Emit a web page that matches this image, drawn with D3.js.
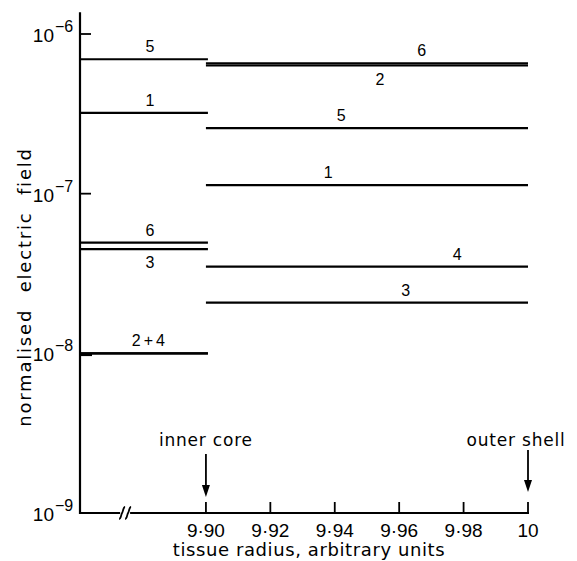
<!DOCTYPE html>
<html><head><meta charset="utf-8">
<script src="https://cdn.jsdelivr.net/npm/d3@7"></script>
<style>body{margin:0;background:#fff}svg{display:block}text{font-family:"DejaVu Sans",sans-serif;fill:#000}.num{font-family:"Liberation Sans",Arial,sans-serif}</style>
</head><body><svg id="c" width="577" height="561"></svg>
<script>
// Data
const series = ["1","2","3","4","5","6"];
const innerValues = [3.21e-7, 1.0e-8, 4.49e-8, 1.0e-8, 6.95e-7, 4.93e-8];
const outerValues = [1.13e-7, 6.35e-7, 2.08e-8, 3.49e-8, 2.57e-7, 6.55e-7];
const innerLabels = [{t:"5",v:6.95e-7,pos:"above"},{t:"1",v:3.21e-7,pos:"above"},{t:"6",v:4.93e-8,pos:"above"},{t:"3",v:4.49e-8,pos:"below"},{t:"2+4",v:1.0e-8,pos:"above"}];
const outerLabels = [{t:"6",v:6.55e-7,x:9.967,pos:"above"},{t:"2",v:6.35e-7,x:9.954,pos:"below"},{t:"5",v:2.57e-7,x:9.942,pos:"above"},{t:"1",v:1.13e-7,x:9.938,pos:"above"},{t:"4",v:3.49e-8,x:9.978,pos:"above"},{t:"3",v:2.08e-8,x:9.962,pos:"above"}];
const xTicks = [9.90, 9.92, 9.94, 9.96, 9.98, 10];
const xTickLabels = ["9·90","9·92","9·94","9·96","9·98","10"];
const yTicks = [1e-6, 1e-7, 1e-8, 1e-9];
const yTickExp = ["−6","−7","−8","−9"];
const xStart = 9.8609, coreEdge = 9.90, shellEdge = 10, breakAt = 9.8749;

const svg = d3.select("#c");
const x = d3.scaleLinear().domain([xStart, 10]).range([80, 528]);
const y = d3.scaleLog().domain([1e-9, 1e-6]).range([513, 34]);
const yTop = y(1.37e-6);

// axes
svg.append("line").attr("x1", x(xStart)).attr("x2", x(xStart)).attr("y1", yTop).attr("y2", y(1e-9)+1)
  .attr("stroke","#000").attr("stroke-width",2.2);
svg.append("line").attr("x1", x(xStart)-1).attr("x2", x(10)+1).attr("y1", y(1e-9)).attr("y2", y(1e-9))
  .attr("stroke","#000").attr("stroke-width",2);
// break symbol
const bx = x(breakAt), by = y(1e-9);
svg.append("rect").attr("x", bx-5).attr("y", by-3).attr("width", 10).attr("height", 6).attr("fill","#fff");
[-3,3].forEach(d=>{
  svg.append("path").attr("d", `M${bx+d-3},${by+6} C${bx+d-1},${by+6} ${bx+d-1},${by+1} ${bx+d},${by} S${bx+d+1},${by-6} ${bx+d+3},${by-6}`)
   .attr("fill","none").attr("stroke","#000").attr("stroke-width",1.8);
});
// x ticks
xTicks.forEach((t,i)=>{
  svg.append("line").attr("x1",x(t)).attr("x2",x(t)).attr("y1",y(1e-9)).attr("y2",y(1e-9)-11).attr("stroke","#000").attr("stroke-width",1.8);
  svg.append("text").attr("class","num").attr("x",x(t)).attr("y",537).attr("text-anchor","middle").attr("font-size",19).text(xTickLabels[i]);
});
// y ticks
yTicks.forEach((t,i)=>{
  if (i<2) svg.append("line").attr("x1",x(xStart)).attr("x2",x(xStart)+11).attr("y1",y(t)).attr("y2",y(t)).attr("stroke","#000").attr("stroke-width",1.8);
  if (i===2) svg.append("line").attr("x1",x(xStart)).attr("x2",x(xStart)+12).attr("y1",y(t)+1.5).attr("y2",y(t)+1.5).attr("stroke","#000").attr("stroke-width",2.5);
  svg.append("text").attr("class","num").attr("x",54).attr("y",y(t)+8).attr("text-anchor","end").attr("font-size",19).text("10");
  svg.append("text").attr("class","num").attr("x",55).attr("y",y(t)-2).attr("font-size",16).text(yTickExp[i]);
});
// lines
series.forEach((s,i)=>{
  svg.append("line").attr("x1",x(xStart)).attr("x2",x(coreEdge)+2).attr("y1",y(innerValues[i])).attr("y2",y(innerValues[i]))
    .attr("stroke","#000").attr("stroke-width",2.2);
  svg.append("line").attr("x1",x(coreEdge)).attr("x2",x(shellEdge)).attr("y1",y(outerValues[i])).attr("y2",y(outerValues[i]))
    .attr("stroke","#000").attr("stroke-width",2.2);
});
// labels
innerLabels.forEach(l=>{
  svg.append("text").attr("class","num").attr("x",x(9.8826)).attr("y", l.pos==="above"? y(l.v)-7 : y(l.v)+19)
    .attr("text-anchor","middle").attr("font-size",16).attr("letter-spacing", l.t.length>1?3:0).text(l.t);
});
outerLabels.forEach(l=>{
  svg.append("text").attr("class","num").attr("x",x(l.x)).attr("y", l.pos==="above"? y(l.v)-7 : y(l.v)+20)
    .attr("text-anchor","middle").attr("font-size",16).text(l.t);
});
// annotations
function arrow(xv, y1, y2){
  svg.append("line").attr("x1",x(xv)).attr("x2",x(xv)).attr("y1",y1).attr("y2",y2-8).attr("stroke","#000").attr("stroke-width",1.8);
  svg.append("path").attr("d",`M${x(xv)-4},${y2-12} L${x(xv)+4},${y2-12} L${x(xv)},${y2} Z`).attr("fill","#000");
}
svg.append("text").attr("x",x(coreEdge)).attr("y",446).attr("text-anchor","middle").attr("font-size",17).attr("letter-spacing",0.8).text("inner core");
arrow(coreEdge, 454, 497);
svg.append("text").attr("x",x(shellEdge)-12).attr("y",446).attr("text-anchor","middle").attr("font-size",17).attr("letter-spacing",0.8).text("outer shell");
arrow(shellEdge, 450, 492);
// axis titles
svg.append("text").attr("x",309).attr("y",556).attr("text-anchor","middle").attr("font-size",18).attr("letter-spacing",0.6).text("tissue radius, arbitrary units");
svg.append("text").attr("transform","translate(31,287) rotate(-90)").attr("text-anchor","middle").attr("font-size",18)
  .attr("letter-spacing",1.8).attr("word-spacing",9).text("normalised electric field");
</script></body></html>
